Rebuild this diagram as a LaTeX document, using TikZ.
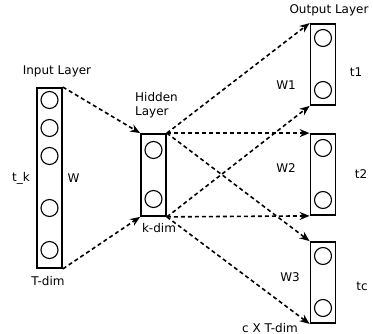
\documentclass[tikz,border=0pt]{standalone}
\usepackage{fontspec}
\setmainfont{DejaVu Sans}
\usetikzlibrary{arrows.meta}

\tikzset{
  layer/.style={draw, line width=1.8pt, inner sep=0pt, minimum width=25pt},
  neuron/.style={draw, circle, line width=1.1pt, minimum size=17pt, inner sep=0pt},
  link/.style={line width=1.6pt, dash pattern=on 4pt off 3pt, -{Stealth[length=10pt,width=8pt]}},
  lbl/.style={font=\fontsize{12}{14}\selectfont, inner sep=0pt}
}

\begin{document}
\begin{tikzpicture}[x=1pt,y=-1pt]
        \useasboundingbox (0,0) rectangle (373,334);
        % layers
        \node[layer, minimum height=180pt] (in) at (49.5,178) {};
        \node[layer, minimum height=82pt] (hid) at (153.5,175) {};
        \node[layer, minimum height=81pt] (outA) at (323,64.5) {};
        \node[layer, minimum height=81pt] (outB) at (323,174.5) {};
        \node[layer, minimum height=81pt] (outC) at (323,282.5) {};
        % neurons
        \foreach \i/\y in {1/100, 2/128, 3/156, 4/208, 5/250}{
            \node[neuron] (in\i) at (49.5,\y) {};
        }
        \foreach \i/\y in {1/150, 2/199}{
            \node[neuron] (hid\i) at (153.5,\y) {};
        }
        \foreach \o/\y in {A/38, B/148, C/256}{
            \node[neuron] (out\o1) at (323,\y) {};
            \node[neuron] (out\o2) at (323,\y+52) {};
        }
        % connections
        \draw[link] (in.north east) -- (hid.north west);
        \draw[link] (in.south east) -- (hid.south west);
        \foreach \o in {A,B,C}{
            \draw[link] (hid.north east) -- (out\o.north west);
            \draw[link] (hid.south east) -- (out\o.south west);
        }
        % labels
        \node[lbl] (inTitle) at (57,71) {Input Layer};
        \node[lbl, align=left, anchor=west] (hidTitle) at (135,105) {Hidden\\Layer};
        \node[lbl] (outTitle) at (329,10) {Output Layer};
        \node[lbl] (tk) at (21,178) {t\_k};
        \node[lbl] (w) at (73.5,178) {W};
        \node[lbl] (tdim) at (48,281) {T-dim};
        \node[lbl] (kdim) at (159,228) {k-dim};
        \node[lbl] (w1) at (286,85) {W1};
        \node[lbl] (w2) at (286,168) {W2};
        \node[lbl] (w3) at (290,277) {W3};
        \node[lbl] (t1) at (356,72) {t1};
        \node[lbl] (t2) at (361,174) {t2};
        \node[lbl] (tc) at (362,286) {tc};
        \node[lbl] (ctdim) at (270,328) {c X T-dim};
    \end{tikzpicture}
\end{document}
